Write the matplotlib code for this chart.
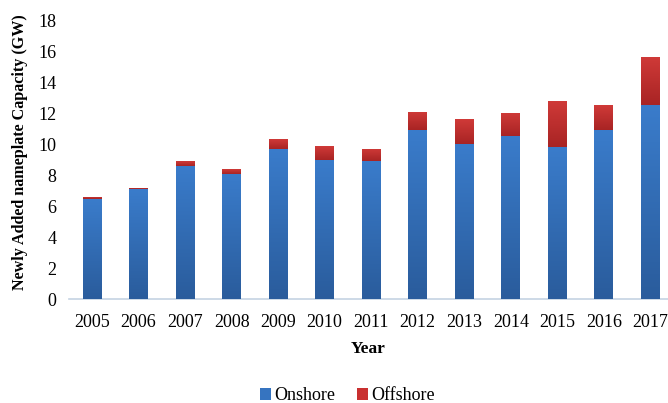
import matplotlib
matplotlib.use("Agg")
import matplotlib.pyplot as plt
import numpy as np
from matplotlib.colors import LinearSegmentedColormap

years = ["2005", "2006", "2007", "2008", "2009", "2010", "2011",
         "2012", "2013", "2014", "2015", "2016", "2017"]
onshore = [6.45, 7.07, 8.6, 8.1, 9.7, 9.0, 8.9, 10.9, 10.0, 10.5, 9.8, 10.9, 12.5]
offshore = [0.15, 0.1, 0.3, 0.3, 0.6, 0.9, 0.8, 1.2, 1.6, 1.5, 3.0, 1.6, 3.1]

plt.rcParams['font.family'] = ['Liberation Serif', 'DejaVu Serif']

fig = plt.figure(figsize=(6.68, 4.03), dpi=100)
ax = fig.add_axes([0.103, 0.258, 0.897, 0.692])

x = np.arange(len(years))
w = 0.4
b1 = ax.bar(x, onshore, w, color="#3674c0", label="Onshore", zorder=2)
b2 = ax.bar(x, offshore, w, bottom=onshore, color="#c93030", label="Offshore", zorder=2)

blue_cm = LinearSegmentedColormap.from_list("b", ["#2a5c9c", "#3a7ccb"])
red_cm = LinearSegmentedColormap.from_list("r", ["#a82424", "#d03a38"])
grad = np.linspace(0, 1, 256).reshape(-1, 1)
for bars, cm in ((b1, blue_cm), (b2, red_cm)):
    for p in bars:
        x0, y0 = p.get_x(), p.get_y()
        im = ax.imshow(grad, cmap=cm, origin="lower", aspect="auto",
                       extent=(x0, x0 + p.get_width(), y0, y0 + p.get_height()),
                       zorder=3)
        im.set_clip_path(p)

ax.set_xlim(-0.5, 12.38)
ax.set_ylim(0, 18)
ax.set_yticks(np.arange(0, 19, 2))
ax.set_xticks(x)
ax.set_xticklabels(years)
ax.tick_params(axis="both", length=0, labelsize=13)
ax.tick_params(axis="x", pad=11)
ax.tick_params(axis="y", pad=9)
for s in ("top", "right", "left"):
    ax.spines[s].set_visible(False)
ax.spines["bottom"].set_color("#c5d3e3")
ax.spines["bottom"].set_linewidth(1.2)

ax.set_ylabel("Newly Added nameplate Capacity (GW)", fontsize=11.6, fontweight="bold", labelpad=6)
ax.yaxis.set_label_coords(-0.068, 0.525)
ax.set_xlabel("Year", fontsize=12.5, fontweight="bold", labelpad=7)

leg = fig.legend(handles=[b1, b2], labels=["Onshore", "Offshore"], loc="center",
                 bbox_to_anchor=(0.52, 0.018), ncol=2, frameon=False, fontsize=13,
                 handlelength=0.6, handleheight=0.6, handletextpad=0.2, columnspacing=1.2)

fig.savefig("out.png", dpi=100)
